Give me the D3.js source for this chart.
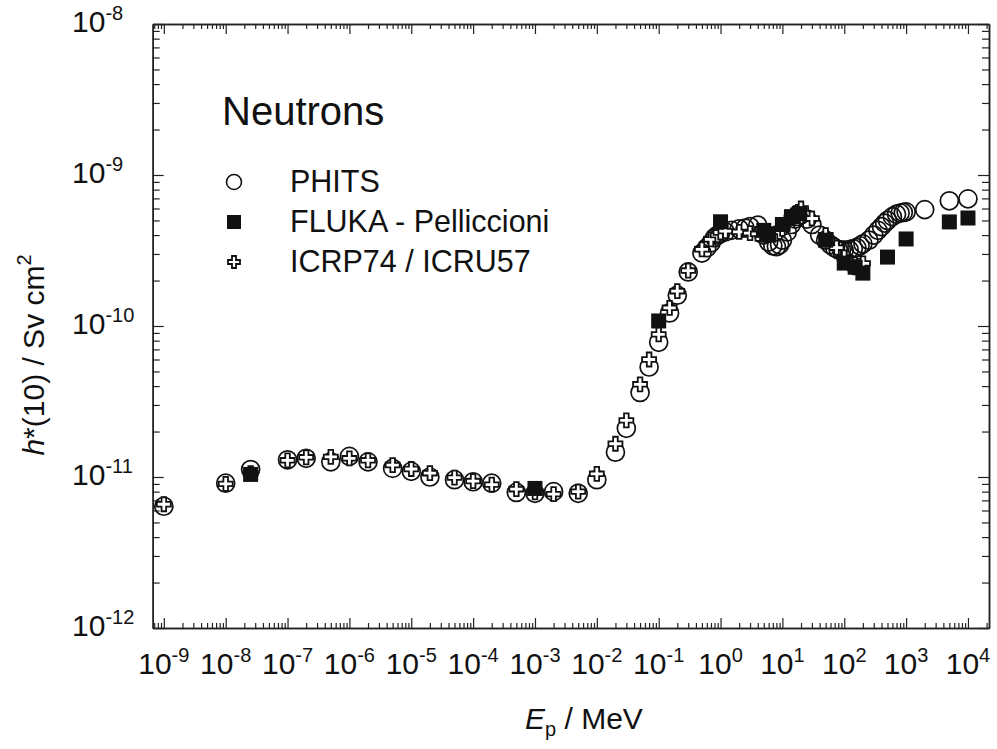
<!DOCTYPE html>
<html>
<head>
<meta charset="utf-8">
<script src="https://cdn.jsdelivr.net/npm/d3@7"></script>
<style>
  body { margin: 0; background: #fff; }
  text { font-family: "Liberation Sans", Arial, sans-serif; fill: #111; }
</style>
</head>
<body>
<svg id="chart" width="997" height="749"></svg>
<script>
// Ambient dose equivalent conversion coefficients, h*(10) in pSv cm^2, neutron energy in MeV

// PHITS
const phitsEnergy = [1e-9, 1e-8, 2.53e-8, 1e-7, 2e-7, 5e-7, 1e-6, 2e-6, 5e-6, 1e-5, 2e-5, 5e-5,
  1e-4, 2e-4, 5e-4, 1e-3, 2e-3, 5e-3, 1e-2, 2e-2, 3e-2, 5e-2, 7e-2, 0.1, 0.15, 0.2, 0.3, 0.5,
  0.6, 0.7, 0.8, 0.9, 1.0, 1.2, 1.5, 2, 2.5, 3, 4, 5, 6, 7, 8, 9, 10, 12, 14, 16, 18, 20, 25,
  30, 40, 50, 60, 70, 80, 90, 100, 120, 140, 160, 180, 200, 250, 300, 350, 400, 450, 500, 600,
  700, 800, 900, 1000, 2000, 5000, 10000];
const phitsDose = [6.4, 9.1, 11.2, 13.0, 13.3, 12.6, 13.7, 12.6, 11.4, 10.9, 10.0, 9.6,
  9.3, 9.1, 7.9, 7.8, 8.0, 7.8, 9.6, 14.6, 21.0, 36.3, 53.5, 78, 122, 160, 228, 304,
  330, 355, 385, 400, 410, 420, 430, 440, 445, 455, 465, 400, 360, 340, 335, 345, 370, 420,
  470, 510, 530, 545, 510, 470, 400, 370, 345, 330, 320, 318, 318, 320, 325, 330, 340, 350,
  370, 400, 430, 455, 480, 500, 530, 550, 560, 565, 570, 590, 675, 695];

// FLUKA - Pelliccioni
const flukaEnergy = [2.53e-8, 1e-3, 0.1, 1, 5, 6, 10, 14, 19, 50, 100, 150, 200, 500, 1000, 5000, 10000];
const flukaDose = [10.4, 8.4, 108, 490, 430, 400, 470, 530, 555, 370, 261, 245, 224, 286, 377, 489, 519];

// ICRP74 / ICRU57
const icrpEnergy = [1e-9, 1e-8, 2.53e-8, 1e-7, 2e-7, 5e-7, 1e-6, 2e-6, 5e-6, 1e-5, 2e-5, 5e-5,
  1e-4, 2e-4, 5e-4, 1e-3, 2e-3, 5e-3, 1e-2, 2e-2, 3e-2, 5e-2, 7e-2, 0.1, 0.15, 0.2, 0.3, 0.5,
  0.7, 0.9, 1, 1.2, 2, 3, 4, 5, 6, 7, 8, 9, 10, 12, 14, 15, 16, 18, 20, 30, 50, 75, 100, 125,
  150, 175, 201];
const icrpDose = [6.6, 9.0, 10.6, 12.9, 13.5, 13.6, 13.3, 12.9, 12.0, 11.3, 10.6, 9.9,
  9.4, 8.9, 8.3, 7.9, 7.7, 8.0, 10.5, 16.6, 23.7, 41.1, 60.0, 88.0, 132, 170, 233, 322,
  375, 400, 416, 425, 420, 412, 408, 405, 400, 405, 409, 420, 440, 480, 520, 540, 555, 570,
  600, 515, 400, 330, 285, 260, 245, 250, 260];

// Axis decades
const xDecades = [-9, -8, -7, -6, -5, -4, -3, -2, -1, 0, 1, 2, 3, 4];
const yDecades = [-12, -11, -10, -9, -8];

const legendLabels = ["PHITS", "FLUKA - Pelliccioni", "ICRP74 / ICRU57"];

const pSv = 1e-12;
const svg = d3.select("#chart");
const plotL = 152.7, plotR = 989, plotT = 24, plotB = 628;

const x = d3.scaleLog().domain([Math.pow(10, -9.18), Math.pow(10, 4.34)]).range([plotL, plotR]);
const y = d3.scaleLog().domain([1e-12, 1e-8]).range([plotB, plotT]);

// minor tick values (2..9 per decade) inside the domain
function minors(scale, d0, d1) {
  const out = [];
  const [lo, hi] = scale.domain();
  for (let d = d0; d <= d1; d++)
    for (let k = 2; k <= 9; k++) {
      const v = k * Math.pow(10, d);
      if (v >= lo && v <= hi) out.push(v);
    }
  return out;
}
const xMajor = xDecades.map(d => Math.pow(10, d));
const yMajor = yDecades.map(d => Math.pow(10, d));
const xMinor = minors(x, -10, 4);
const yMinor = minors(y, -12, -9);

function styleAxis(g) {
  g.select(".domain").attr("stroke", "#222").attr("stroke-width", 1.5);
  g.selectAll(".tick line").attr("stroke", "#222").attr("stroke-width", 1.2);
  g.selectAll(".tick text").remove();
}

// bottom / top
svg.append("g").attr("transform", `translate(0,${plotB})`)
  .call(d3.axisBottom(x).tickValues(xMinor).tickSize(-5).tickSizeOuter(0).tickFormat(""))
  .call(styleAxis);
svg.append("g").attr("transform", `translate(0,${plotB})`)
  .call(d3.axisBottom(x).tickValues(xMajor).tickSize(-10).tickSizeOuter(0).tickFormat(""))
  .call(styleAxis);
svg.append("g").attr("transform", `translate(0,${plotT})`)
  .call(d3.axisTop(x).tickValues(xMinor).tickSize(-5).tickSizeOuter(0).tickFormat(""))
  .call(styleAxis);
svg.append("g").attr("transform", `translate(0,${plotT})`)
  .call(d3.axisTop(x).tickValues(xMajor).tickSize(-10).tickSizeOuter(0).tickFormat(""))
  .call(styleAxis);
// left / right
svg.append("g").attr("transform", `translate(${plotL},0)`)
  .call(d3.axisLeft(y).tickValues(yMinor).tickSize(-7).tickSizeOuter(0).tickFormat(""))
  .call(styleAxis);
svg.append("g").attr("transform", `translate(${plotL},0)`)
  .call(d3.axisLeft(y).tickValues(yMajor).tickSize(-11).tickSizeOuter(0).tickFormat(""))
  .call(styleAxis);
svg.append("g").attr("transform", `translate(${plotR},0)`)
  .call(d3.axisRight(y).tickValues(yMinor).tickSize(-7).tickSizeOuter(0).tickFormat(""))
  .call(styleAxis);
svg.append("g").attr("transform", `translate(${plotR},0)`)
  .call(d3.axisRight(y).tickValues(yMajor).tickSize(-11).tickSizeOuter(0).tickFormat(""))
  .call(styleAxis);

// power-of-ten tick labels
svg.append("g").selectAll("text").data(xDecades).join("text")
  .attr("x", d => x(Math.pow(10, d))).attr("y", 674)
  .attr("text-anchor", "middle").attr("font-size", 30)
  .each(function (d) {
    const t = d3.select(this);
    t.append("tspan").text("10");
    t.append("tspan").attr("font-size", 20).attr("dy", -12).text(d);
  });
svg.append("g").selectAll("text").data(yDecades).join("text")
  .attr("x", 72).attr("y", d => y(Math.pow(10, d)) + 8)
  .attr("text-anchor", "start").attr("font-size", 30)
  .each(function (d) {
    const t = d3.select(this);
    t.append("tspan").text("10");
    t.append("tspan").attr("font-size", 20).attr("dy", -12).text(d);
  });

// axis titles
const xt = svg.append("text").attr("x", 525).attr("y", 729).attr("font-size", 30);
xt.append("tspan").attr("font-style", "italic").text("E");
xt.append("tspan").attr("font-size", 20).attr("dy", 7).text("p");
xt.append("tspan").attr("dy", -7).text(" / MeV");

const yt = svg.append("text").attr("transform", "translate(44,355) rotate(-90)")
  .attr("text-anchor", "middle").attr("font-size", 30);
yt.append("tspan").attr("font-style", "italic").text("h");
yt.append("tspan").text("*(10) / Sv cm");
yt.append("tspan").attr("font-size", 20).attr("dy", -13).text("2");

// marker shapes
function plusPath(a, w) {
  return `M${-w},${-a}H${w}V${-w}H${a}V${w}H${w}V${a}H${-w}V${w}H${-a}V${-w}H${-w}Z`;
}

// PHITS circles
svg.append("g").selectAll("circle")
  .data(phitsEnergy.map((e, i) => [e, phitsDose[i]])).join("circle")
  .attr("cx", d => x(d[0])).attr("cy", d => y(d[1] * pSv)).attr("r", 9)
  .attr("fill", "none").attr("stroke", "#111").attr("stroke-width", 1.7);

// ICRP74 crosses
svg.append("g").selectAll("path")
  .data(icrpEnergy.map((e, i) => [e, icrpDose[i]])).join("path")
  .attr("transform", d => `translate(${x(d[0])},${y(d[1] * pSv)})`)
  .attr("d", plusPath(7, 2.3))
  .attr("fill", "#fff").attr("stroke", "#111").attr("stroke-width", 1.8);

// FLUKA squares
svg.append("g").selectAll("rect")
  .data(flukaEnergy.map((e, i) => [e, flukaDose[i]])).join("rect")
  .attr("x", d => x(d[0]) - 7.5).attr("y", d => y(d[1] * pSv) - 7.5)
  .attr("width", 15).attr("height", 15).attr("fill", "#111");

// legend
svg.append("text").attr("x", 222).attr("y", 125).attr("font-size", 40).text("Neutrons");
const lg = svg.append("g");
const rowsY = [182, 222, 262];
lg.append("circle").attr("cx", 234).attr("cy", rowsY[0]).attr("r", 7.5)
  .attr("fill", "none").attr("stroke", "#111").attr("stroke-width", 1.6);
lg.append("rect").attr("x", 227).attr("y", rowsY[1] - 7).attr("width", 14).attr("height", 14)
  .attr("fill", "#111");
lg.append("path").attr("transform", `translate(234,${rowsY[2]})`).attr("d", plusPath(6, 2))
  .attr("fill", "#fff").attr("stroke", "#111").attr("stroke-width", 1.8);
lg.selectAll("text.lbl").data(legendLabels).join("text").attr("class", "lbl")
  .attr("x", 290).attr("y", (d, i) => rowsY[i] + 10).attr("font-size", 30.5).text(d => d);
</script>
</body>
</html>
